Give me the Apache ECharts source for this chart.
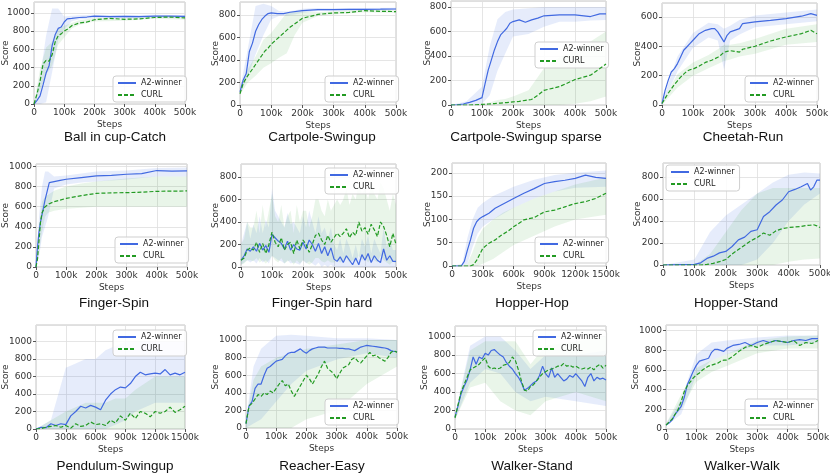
<!DOCTYPE html>
<html>
<head>
<meta charset="utf-8">
<script src="https://cdn.jsdelivr.net/npm/echarts@6/dist/echarts.min.js"></script>
<style>
html, body { margin: 0; padding: 0; background: #fff; }
#main { width: 830px; height: 475px; }
</style>
</head>
<body>
<div id="main"></div>
<script>
var ballX = [0,10,20,30,40,50,60,70,80,90,100,110,125,150,175,200,250,300,350,400,450,500];
var ballA2 = [0,40,90,210,340,420,640,760,830,845,900,935,940,950,955,965,960,962,960,965,965,962];
var ballCurl = [0,110,250,440,480,470,540,680,750,770,800,820,860,890,900,925,940,930,935,950,955,945];
var ballBX = [0,20,40,60,80,100,125,150,200,300,400,500];
var ballA2Lo = [0,0,20,350,700,820,910,930,945,945,950,945];
var ballA2Hi = [0,300,750,1050,1050,960,970,975,980,975,980,975];
var ballCurlLo = [0,150,320,420,650,730,830,870,905,915,935,925];
var ballCurlHi = [0,380,620,680,830,860,890,920,945,945,965,965];

var cartX = [0,10,20,30,40,50,60,70,80,90,100,120,140,160,200,250,300,350,400,450,500];
var cartA2 = [116,220,280,475,550,655,715,760,790,812,818,812,812,824,838,848,848,849,850,851,853];
var cartCurl = [100,190,240,280,320,360,400,440,480,505,540,590,640,690,770,805,818,822,838,832,830];
var cartBX = [0,25,50,75,100,125,150,175,200,250,300,400,500];
var cartA2Lo = [100,250,450,620,760,790,795,805,820,835,838,840,843];
var cartA2Hi = [140,500,880,900,880,835,830,840,855,862,860,862,865];
var cartCurlLo = [90,200,260,330,370,420,460,620,730,790,805,825,818];
var cartCurlHi = [110,320,430,580,640,730,820,830,830,825,832,850,845];

var sparseX = [0,20,40,50,60,80,100,110,120,130,140,150,160,170,180,190,200,220,240,260,280,300,350,400,450,480,500];
var sparseA2 = [0,2,8,16,22,38,60,175,285,367,450,518,573,600,627,668,682,696,676,696,710,729,737,737,723,745,745];
var sparseCurl = [0,0,0,0,0,2,5,6,8,10,12,15,16,18,20,22,25,30,38,45,80,120,150,208,244,298,335];
var sparseBX = [0,50,100,125,150,175,200,250,300,350,400,450,500];
var sparseA2Lo = [0,0,10,80,280,420,560,580,640,680,680,690,695];
var sparseA2Hi = [0,30,150,480,700,760,780,790,800,800,800,800,800];
var sparseCurlLo = [0,0,0,0,0,0,0,0,0,0,10,30,70];
var sparseCurlHi = [0,0,10,20,40,50,70,120,300,390,450,520,600];

var cheetahX = [0,10,20,30,40,50,60,70,80,90,100,120,140,160,170,180,190,200,210,220,250,260,300,350,400,450,480,500];
var cheetahA2 = [10,100,168,225,248,282,327,373,395,418,441,486,509,520,520,498,464,430,475,498,520,555,566,577,589,605,623,611];
var cheetahCurl = [10,45,80,110,140,165,190,210,230,240,245,265,290,305,315,325,340,360,365,370,360,380,400,436,464,486,509,485];
var cheetahBX = [0,50,100,150,180,200,220,250,300,400,500];
var cheetahA2Lo = [0,230,390,460,440,240,440,480,530,550,570];
var cheetahA2Hi = [20,330,490,560,550,520,540,580,610,630,650];
var cheetahCurlLo = [0,120,200,250,280,300,310,330,350,410,430];
var cheetahCurlHi = [20,210,290,340,380,410,410,420,450,520,550];

var fingerX = [0,5,10,15,20,30,44,60,80,100,150,200,250,300,350,400,450,500];
var fingerA2 = [0,200,350,450,520,667,840,850,862,873,890,907,912,923,930,960,955,957];
var fingerCurl = [0,80,267,450,540,600,630,650,665,683,710,733,738,740,745,753,755,757];
var fingerBX = [0,10,20,30,40,60,100,150,200,300,400,500];
var fingerA2Lo = [0,100,300,400,500,780,820,840,850,870,900,900];
var fingerA2Hi = [0,500,800,950,950,900,910,930,950,960,985,990];
var fingerCurlLo = [0,150,350,500,540,560,580,590,600,600,600,600];
var fingerCurlHi = [0,380,650,700,720,760,800,830,850,880,900,900];

var hardX = [0,10,20,30,40,50,60,70,80,90,100,110,120,130,140,150,160,170,180,190,200,210,220,230,240,250,
  260,270,280,290,300,310,320,330,340,350,360,370,380,390,400,410,420,430,440,450,460,470,480,490,500];
var hardA2 = [60,100,160,140,180,140,210,150,190,130, 290,260,230,210,160,230,150,200,160,150,
  220,160,240,200,140,210,120,180,100,170, 70,50,90,40,100,60,20,80,20,110, 60,120,40,100,60,40,160,60,100,50, 50];
var hardCurl = [60,80,150,170,150,220,130,210,120,200, 310,220,180,260,150,200,220,120,240,160,
  240,200,130,200,280,300,240,200,280,220, 260,300,270,300,340,260,310,280,400,320, 350,290,380,330,270,400,360,280,180,300, 200];
var hardBX = hardX;
var hardA2Lo = [20,40,60,40,60,30,80,40,60,30, 100,80,60,50,30,60,30,40,30,20, 60,30,50,30,10,40,0,20,0,20,
  0,0,0,0,0,0,0,0,0,0, 0,0,0,0,0,0,0,0,0,0, 0];
var hardA2Hi = [200,300,400,250,380,300,450,300,420,350, 700,500,450,400,350,480,380,400,350,300,
  450,350,500,400,300,450,300,350,250,350, 200,150,250,120,250,180,80,200,80,250, 180,280,120,250,180,120,350,180,250,150, 150];
var hardCurlLo = [20,30,60,60,50,80,40,60,30,60, 100,60,40,80,30,50,60,20,60,30, 60,40,20,40,80,80,50,40,60,40,
  40,60,40,60,80,40,60,50,100,60, 80,40,80,60,40,100,60,40,20,50, 30];
var hardCurlHi = [200,250,400,350,350,500,300,550,350,500, 650,450,400,550,350,450,500,300,550,400,
  500,500,350,450,600,600,500,450,600,500, 550,600,550,600,700,550,650,600,750,650, 700,600,750,650,600,750,700,600,500,650, 550];

var hopX = [0,90,100,120,150,180,210,240,270,300,360,420,480,540,600,700,800,900,1000,1100,1200,1300,1400,1500];
var hopA2 = [0,0,0,10,34,56,81,95,102,106,113,124,131,138,145,156,166,177,181,184,188,195,190,188];
var hopCurl = [0,0,0,0,0,0,3,12,25,38,49,56,66,74,84,99,104,116,120,127,134,138,145,156];
var hopBX = [0,100,150,200,250,300,400,500,600,800,1000,1200,1500];
var hopA2Lo = [0,0,5,40,70,85,100,112,125,145,160,168,170];
var hopA2Hi = [0,5,60,100,125,135,150,160,170,185,195,200,205];
var hopCurlLo = [0,0,0,0,0,5,15,30,45,65,85,100,110];
var hopCurlHi = [0,0,5,30,60,80,100,115,125,145,160,175,190];

var hstandX = [0,50,100,120,140,160,180,200,220,240,260,280,300,320,340,360,380,400,420,440,460,470,480,490,500];
var hstandA2 = [0,3,5,20,60,80,110,123,168,228,253,305,320,440,484,545,590,665,686,710,740,680,710,770,770];
var hstandCurl = [0,0,0,0,5,15,30,50,100,140,180,220,250,290,270,310,330,340,345,350,360,362,365,355,340];
var hstandBX = [0,100,150,200,250,300,350,400,450,500];
var hstandA2Lo = [0,0,0,0,0,50,200,400,550,650];
var hstandA2Hi = [0,50,300,450,550,650,750,820,840,830];
var hstandCurlLo = [0,0,0,0,0,0,0,30,50,60];
var hstandCurlHi = [0,0,100,300,500,650,700,700,700,700];

var pendX = [0,50,100,150,200,250,300,350,400,450,500,550,600,650,700,750,800,850,900,950,1000,
  1050,1100,1150,1200,1250,1300,1350,1400,1450,1500];
var pendA2 = [0,20,15,60,40,60,50,150,200,260,240,270,250,220,330,400,450,480,470,520,600,650,620,630,640,630,680,620,640,620,650];
var pendCurl = [0,5,20,30,40,20,40,10,60,30,40,80,50,60,40,100,70,150,100,180,120,200,180,140,200,180,200,250,190,220,260];
var pendBX = [0,150,300,400,500,600,700,800,900,1000,1200,1500];
var pendA2Lo = [0,0,0,0,0,0,0,50,100,200,300,300];
var pendA2Hi = [0,100,700,750,800,800,900,950,1000,1000,1000,1000];
var pendCurlLo = [0,0,0,0,0,0,0,0,0,0,0,0];
var pendCurlHi = [0,100,200,250,300,300,300,350,350,450,600,600];

var reachX = hardX;
var reachA2 = [50,250,300,450,500,500,600,680,700,730, 760,770,780,820,850,860,860,880,900,870,
  850,880,900,910,920,920,920,910,910,910, 910,905,905,900,900,890,880,900,920,930, 940,935,930,925,920,915,910,900,880,870, 870];
var reachCurl = [50,250,280,330,380,360,400,380,420,400, 450,500,540,480,500,420,360,420,480,540,
  600,560,500,560,620,700,760,680,650,620, 560,620,680,700,720,780,800,760,740,780, 820,860,820,830,800,780,760,800,860,880, 860];
var reachBX = [0,25,50,100,150,200,300,400,500];
var reachA2Lo = [0,50,100,300,500,650,780,850,800];
var reachA2Hi = [100,700,900,1050,1060,1050,1020,1020,1000];
var reachCurlLo = [0,0,0,0,0,100,200,500,700];
var reachCurlHi = [100,550,700,800,850,900,950,1000,1000];

var wstandX = hardX;
var wstandA2 = [130,250,380,460,530,640,780,700,780,760, 820,800,850,860,830,800,780,720,680,650,
  600,560,500,420,440,470,500,520,580,680, 600,560,660,560,600,560,520,540,580,560, 600,560,520,460,560,600,520,560,540,550, 530];
var wstandCurl = [120,260,400,480,560,640,660,680,700,740, 770,680,650,660,650,660,690,700,720,780,
  740,640,520,420,410,460,480,520,560,600, 620,640,650,660,680,680,710,680,690,670, 680,660,650,660,650,670,640,680,700,660, 690];
var wstandBX = [0,50,100,150,200,250,300,400,500];
var wstandA2Lo = [100,500,650,600,400,300,350,300,250];
var wstandA2Hi = [150,900,1000,1000,850,650,800,800,850];
var wstandCurlLo = [100,450,500,300,200,150,300,400,300];
var wstandCurlHi = [150,850,950,950,950,700,900,950,1000];

var wwalkX = [0,10,20,30,40,50,60,70,80,90,100,110,120,130,140,150,160,170,180,190,200,
  220,240,260,280,300,320,340,360,380,400,420,440,460,480,500];
var wwalkA2 = [40,60,90,150,190,230,320,450,520,590,650,690,700,710,720,780,810,810,800,790,820,
  850,860,880,850,880,900,880,900,890,880,900,910,900,920,920];
var wwalkCurl = [40,70,100,150,200,280,380,440,480,520,550,570,600,620,640,650,660,670,690,700,700,
  740,790,830,850,830,860,880,900,890,880,900,850,880,870,900];
var wwalkBX = [0,50,100,150,200,300,400,500];
var wwalkA2Lo = [30,150,550,700,760,850,850,880];
var wwalkA2Hi = [50,300,760,880,900,930,950,950];
var wwalkCurlLo = [30,200,480,580,640,770,820,820];
var wwalkCurlHi = [50,350,620,700,760,900,940,950];

var titles = ['Ball in cup-Catch','Cartpole-Swingup','Cartpole-Swingup sparse','Cheetah-Run',
  'Finger-Spin','Finger-Spin hard','Hopper-Hop','Hopper-Stand',
  'Pendulum-Swingup','Reacher-Easy','Walker-Stand','Walker-Walk'];
var xMaxes = [500,500,500,500, 500,500,1500,500, 1500,500,500,500];
var yMaxes = [1120,915,850,695, 1025,915,221,926, 1190,1160,1115,1058];
var ySteps = [200,200,200,200, 200,200,50,200, 200,200,200,200];

var panels = [
  [ballX, ballA2, ballCurl, ballBX, ballA2Lo, ballA2Hi, ballCurlLo, ballCurlHi],
  [cartX, cartA2, cartCurl, cartBX, cartA2Lo, cartA2Hi, cartCurlLo, cartCurlHi],
  [sparseX, sparseA2, sparseCurl, sparseBX, sparseA2Lo, sparseA2Hi, sparseCurlLo, sparseCurlHi],
  [cheetahX, cheetahA2, cheetahCurl, cheetahBX, cheetahA2Lo, cheetahA2Hi, cheetahCurlLo, cheetahCurlHi],
  [fingerX, fingerA2, fingerCurl, fingerBX, fingerA2Lo, fingerA2Hi, fingerCurlLo, fingerCurlHi],
  [hardX, hardA2, hardCurl, hardBX, hardA2Lo, hardA2Hi, hardCurlLo, hardCurlHi],
  [hopX, hopA2, hopCurl, hopBX, hopA2Lo, hopA2Hi, hopCurlLo, hopCurlHi],
  [hstandX, hstandA2, hstandCurl, hstandBX, hstandA2Lo, hstandA2Hi, hstandCurlLo, hstandCurlHi],
  [pendX, pendA2, pendCurl, pendBX, pendA2Lo, pendA2Hi, pendCurlLo, pendCurlHi],
  [reachX, reachA2, reachCurl, reachBX, reachA2Lo, reachA2Hi, reachCurlLo, reachCurlHi],
  [wstandX, wstandA2, wstandCurl, wstandBX, wstandA2Lo, wstandA2Hi, wstandCurlLo, wstandCurlHi],
  [wwalkX, wwalkA2, wwalkCurl, wwalkBX, wwalkA2Lo, wwalkA2Hi, wwalkCurlLo, wwalkCurlHi]
];

// layout: grid left, top, width, height, title x, title y, legend left, legend top, Score gap
var boxes = [
  [34,2,151,102, 115,137, 113,76, 24],
  [240,2,156,103, 322,137, 325,76, 20],
  [451,1,155,104, 526,137, 535,42, 19],
  [662,3,155,102, 743,137, 745,76, 20],
  [36,164,151,103, 114,303, 115,237, 26],
  [241,164,155,103, 322,303, 325,168, 21],
  [452,163,154,103, 532,303, 535,237, 20],
  [663,163,157,102, 736,303, 666,165, 21],
  [36,325,149,104, 115,466, 113,330, 26],
  [246,326,151,102, 322,466, 325,399, 26],
  [455,326,151,103, 532,466, 533,330, 26],
  [666,325,152,104, 742,466, 745,399, 26]
];

var BLUE = '#4169e1', GREEN = '#229a22';
var BLUE_BAND = 'rgba(65,105,225,0.13)', GREEN_BAND = 'rgba(40,160,40,0.10)';
var TICK_FONT = 'DejaVu Sans';

function pairs(xs, ys) { return xs.map(function (x, k) { return [x, ys[k]]; }); }

function band(i, bx, lo, hi, fill) {
  return {
    type: 'custom', name: 'band', xAxisIndex: i, yAxisIndex: i, silent: true, z: 1,
    encode: { x: 0, y: [1, 2] },
    data: bx.map(function (x, k) { return [x, lo[k], hi[k]]; }),
    renderItem: function (params, api) {
      if (params.dataIndex !== 0) return;
      var top = [], bot = [];
      for (var k = 0; k < bx.length; k++) {
        top.push(api.coord([bx[k], hi[k]]));
        bot.push(api.coord([bx[k], lo[k]]));
      }
      return { type: 'polygon', shape: { points: top.concat(bot.reverse()) }, style: { fill: fill } };
    }
  };
}

var grid = [], xAxis = [], yAxis = [], series = [], legend = [], graphic = [];
panels.forEach(function (p, i) {
  var b = boxes[i];
  grid.push({ left: b[0], top: b[1], width: b[2], height: b[3], show: true, borderColor: '#c4c4c4',
    borderWidth: 1, containLabel: false, outerBoundsMode: 'none' });
  xAxis.push({
    gridIndex: i, type: 'value', min: 0, max: xMaxes[i], interval: xMaxes[i] / 5,
    name: 'Steps', nameLocation: 'middle', nameGap: 16, nameMoveOverlap: false,
    nameTextStyle: { fontSize: 9, color: '#333', fontFamily: TICK_FONT },
    axisLine: { show: false },
    axisTick: { show: true, length: 3, lineStyle: { color: '#555' } },
    axisLabel: { fontSize: 9, color: '#333', margin: 4, fontFamily: TICK_FONT,
      formatter: function (v) { return v === 0 ? '0' : v + 'k'; } },
    splitLine: { show: true, lineStyle: { color: '#dedede', width: 0.8 } }
  });
  yAxis.push({
    gridIndex: i, type: 'value', min: 0, max: yMaxes[i], interval: ySteps[i],
    name: 'Score', nameLocation: 'middle', nameGap: b[8], nameMoveOverlap: false,
    nameTextStyle: { fontSize: 9, color: '#333', fontFamily: TICK_FONT },
    axisLine: { show: false },
    axisTick: { show: true, length: 3, lineStyle: { color: '#555' } },
    axisLabel: { fontSize: 9, color: '#333', margin: 4, fontFamily: TICK_FONT, showMaxLabel: false,
      formatter: function (v) { return String(v); } },
    splitLine: { show: true, lineStyle: { color: '#dedede', width: 0.8 } }
  });
  series.push(band(i, p[3], p[4], p[5], BLUE_BAND));
  series.push(band(i, p[3], p[6], p[7], GREEN_BAND));
  series.push({ type: 'line', name: 'A2-winner', xAxisIndex: i, yAxisIndex: i, data: pairs(p[0], p[1]),
    symbol: 'none', z: 3, lineStyle: { color: BLUE, width: 1.2 }, itemStyle: { color: BLUE } });
  series.push({ type: 'line', name: 'CURL', xAxisIndex: i, yAxisIndex: i, data: pairs(p[0], p[2]),
    symbol: 'none', z: 4, lineStyle: { color: GREEN, width: 1.2, type: [4, 2] }, itemStyle: { color: GREEN } });
  legend.push({
    data: ['A2-winner', 'CURL'], orient: 'vertical', left: b[6], top: b[7],
    itemWidth: 18, itemHeight: 8, itemGap: 4, padding: [3, 5, 3, 4], selectedMode: false,
    backgroundColor: 'rgba(255,255,255,0.85)', borderColor: '#cfcfcf', borderWidth: 1, borderRadius: 3,
    itemStyle: { opacity: 0 },
    textStyle: { fontSize: 8, color: '#222', fontFamily: TICK_FONT }
  });
  graphic.push({ type: 'text', x: b[4], y: b[5], silent: true,
    style: { text: titles[i], align: 'center', verticalAlign: 'middle', fontSize: 13.5,
      fontFamily: 'Liberation Sans, Arial, sans-serif', fill: '#111' } });
});

var myChart = echarts.init(document.getElementById('main'));
myChart.setOption({
  animation: false,
  backgroundColor: '#fff',
  grid: grid, xAxis: xAxis, yAxis: yAxis, series: series, legend: legend, graphic: graphic
});
</script>
</body>
</html>
